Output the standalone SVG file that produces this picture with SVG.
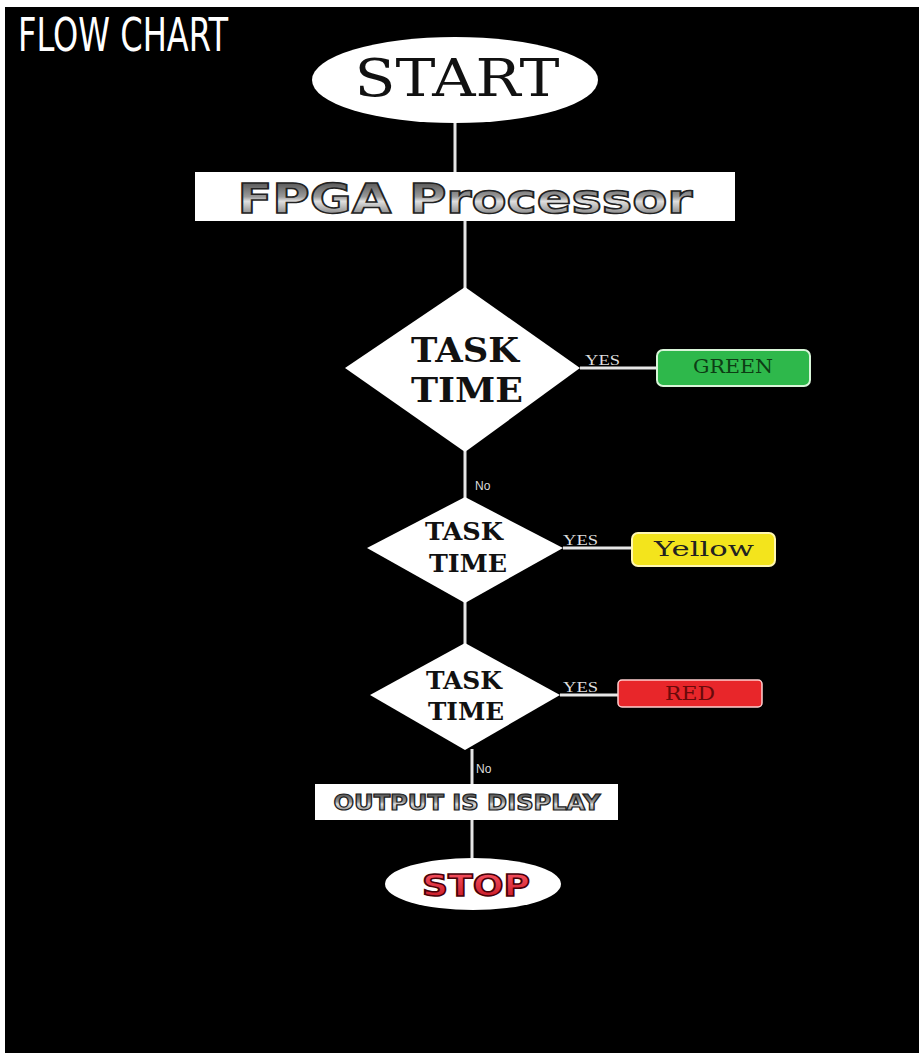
<svg xmlns="http://www.w3.org/2000/svg" width="919" height="1053" viewBox="0 0 919 1053">
<defs>
<linearGradient id="chrome" x1="0" y1="0" x2="0" y2="1">
<stop offset="0" stop-color="#3a3a3a"/>
<stop offset="0.45" stop-color="#9a9a9a"/>
<stop offset="0.55" stop-color="#e0e0e0"/>
<stop offset="1" stop-color="#555"/>
</linearGradient>
<linearGradient id="redg" x1="0" y1="0" x2="0" y2="1">
<stop offset="0" stop-color="#ff5a6a"/>
<stop offset="1" stop-color="#c0101c"/>
</linearGradient>
</defs>
<style>
.line{stroke:#e6e6e6;stroke-width:3;fill:none}
.white{fill:#ffffff}
.tt{font-family:"DejaVu Serif Condensed","DejaVu Serif",serif;font-weight:bold;fill:#111;text-anchor:middle}
.yes{font-family:"Liberation Serif",serif;font-size:15px;fill:#ddd}
.no{font-family:"Liberation Sans Narrow","Liberation Sans",sans-serif;font-size:12px;fill:#ddd}
.lbl{font-family:"DejaVu Serif",serif;text-anchor:middle}
</style>
<rect x="0" y="0" width="919" height="1053" fill="#ffffff"/>
<rect x="5" y="7" width="914" height="1046" fill="#000000"/>
<text x="18" y="51" font-family="Liberation Sans Narrow,DejaVu Sans Condensed,sans-serif" font-size="46" fill="#ffffff" textLength="210" lengthAdjust="spacingAndGlyphs">FLOW CHART</text>
<g id="connectors">
<line class="line" x1="455" y1="122" x2="455" y2="173"/>
<line class="line" x1="465" y1="221" x2="465" y2="289"/>
<line class="line" x1="580" y1="368" x2="658" y2="368"/>
<line class="line" x1="465" y1="451" x2="465" y2="498"/>
<line class="line" x1="563" y1="548" x2="633" y2="548"/>
<line class="line" x1="465" y1="602" x2="465" y2="644"/>
<line class="line" x1="560" y1="695" x2="619" y2="695"/>
<line class="line" x1="472" y1="749" x2="472" y2="785"/>
<line class="line" x1="472" y1="820" x2="472" y2="860"/>
<text class="yes" x="585" y="365" textLength="35" lengthAdjust="spacingAndGlyphs">YES</text>
<text class="no" x="475" y="490">No</text>
<text class="yes" x="563" y="545" textLength="35" lengthAdjust="spacingAndGlyphs">YES</text>
<text class="yes" x="563" y="692" textLength="35" lengthAdjust="spacingAndGlyphs">YES</text>
<text class="no" x="476" y="773">No</text>
</g>
<g id="start">
<ellipse class="white" cx="455" cy="80" rx="143" ry="43"/>
<text x="457" y="96" font-family="DejaVu Serif,serif" font-size="52" fill="#111" text-anchor="middle" textLength="205" lengthAdjust="spacingAndGlyphs">START</text>
</g>
<g id="fpga">
<rect class="white" x="195" y="172" width="540" height="49"/>
<text x="465" y="213" font-family="DejaVu Sans,sans-serif" font-weight="bold" font-size="40" fill="url(#chrome)" stroke="#222" stroke-width="1.5" text-anchor="middle" textLength="455" lengthAdjust="spacingAndGlyphs">FPGA Processor</text>
</g>
<g id="decision1">
<polygon class="white" points="465,287 580,368 465,452 345,368"/>
<text class="tt" x="465" y="362" font-size="34" textLength="108" lengthAdjust="spacingAndGlyphs">TASK</text>
<text class="tt" x="467" y="402" font-size="34" textLength="112" lengthAdjust="spacingAndGlyphs">TIME</text>
</g>
<g id="green">
<rect x="657" y="350" width="153" height="36" rx="6" fill="#2eb84b" stroke="#d8f5d8" stroke-width="2"/>
<text class="lbl" x="733" y="373" font-size="18" fill="#0d3d14" textLength="80" lengthAdjust="spacingAndGlyphs">GREEN</text>
</g>
<g id="decision2">
<polygon class="white" points="465,497 563,548 465,603 367,548"/>
<text class="tt" x="464" y="540" font-size="25" textLength="78" lengthAdjust="spacingAndGlyphs">TASK</text>
<text class="tt" x="468" y="572" font-size="25" textLength="78" lengthAdjust="spacingAndGlyphs">TIME</text>
</g>
<g id="yellow">
<rect x="632" y="533" width="143" height="33" rx="6" fill="#f3e41c" stroke="#fff7b0" stroke-width="2"/>
<text class="lbl" x="704" y="556" font-size="20" fill="#222" textLength="100" lengthAdjust="spacingAndGlyphs">Yellow</text>
</g>
<g id="decision3">
<polygon class="white" points="465,643 560,695 465,750 370,695"/>
<text class="tt" x="464" y="689" font-size="25" textLength="76" lengthAdjust="spacingAndGlyphs">TASK</text>
<text class="tt" x="466" y="720" font-size="25" textLength="76" lengthAdjust="spacingAndGlyphs">TIME</text>
</g>
<g id="red">
<rect x="618" y="680" width="144" height="27" rx="4" fill="#e8262a" stroke="#ffd0d0" stroke-width="1.5"/>
<text class="lbl" x="690" y="700" font-size="18" fill="#6a0a0a" textLength="50" lengthAdjust="spacingAndGlyphs">RED</text>
</g>
<g id="output">
<rect class="white" x="315" y="784" width="303" height="36"/>
<text x="467" y="810" font-family="DejaVu Sans,sans-serif" font-weight="bold" font-size="21" fill="url(#chrome)" stroke="#222" stroke-width="1.2" text-anchor="middle" textLength="267" lengthAdjust="spacingAndGlyphs">OUTPUT IS DISPLAY</text>
</g>
<g id="stop">
<ellipse class="white" cx="473" cy="884" rx="88" ry="26"/>
<text x="476" y="896" font-family="DejaVu Sans,sans-serif" font-weight="bold" font-size="30" fill="url(#redg)" stroke="#4a0008" stroke-width="1.5" text-anchor="middle" textLength="108" lengthAdjust="spacingAndGlyphs">STOP</text>
</g>
</svg>
